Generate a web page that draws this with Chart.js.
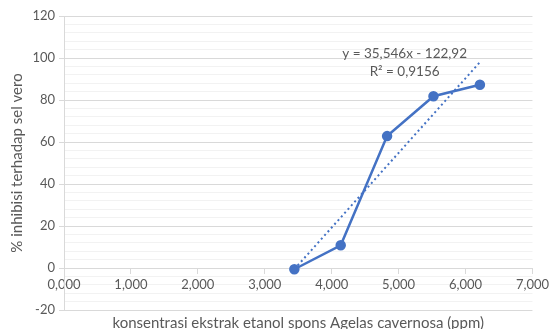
<!DOCTYPE html>
<html lang="id">
<head>
  <meta charset="UTF-8" />
  <title>Inhibisi sel vero</title>
  <script src="https://cdn.jsdelivr.net/npm/chart.js"></script>
  <style>
    html, body { margin: 0; padding: 0; background: #fff; }
    .chart-box { width: 553px; height: 329px; position: relative; }
  </style>
</head>
<body>
  <div class="chart-box">
    <canvas id="inhibChart"></canvas>
  </div>

  <script>
    // data (x = ln of concentration)
    const konsentrasi = [3.442, 4.135, 4.828, 5.521, 6.215];
    const inhibisi = [-0.6, 10.8, 62.8, 81.8, 87.3];

    // trendline as printed on the chart
    const slope = 35.546;
    const intercept = -122.92;
    const eqLabels = ["y = 35,546x - 122,92", "R\u00b2 = 0,9156"];
    const xTitle = "konsentrasi ekstrak etanol spons Agelas cavernosa (ppm)";
    const yTitle = "% inhibisi terhadap sel vero";

    const blue = "#4472C4";
    const grey = "#595959";
    const fontFam = "Lato, 'Open Sans', sans-serif";

    const trendX = [konsentrasi[0], konsentrasi[konsentrasi.length - 1]];

    // equation label + x axis title (x axis sits at y = 0, so its own title would too)
    const extraText = {
      id: "extraText",
      afterDatasetsDraw(chart) {
        const { ctx, scales, chartArea } = chart;
        const cx = scales.x.getPixelForValue(5.09);
        const cy = scales.y.getPixelForValue(102.3);
        ctx.save();
        ctx.fillStyle = grey;
        ctx.textAlign = "center";
        ctx.textBaseline = "middle";
        ctx.font = "13.5px " + fontFam;
        ctx.fillText(eqLabels[0], cx, cy);
        ctx.fillText(eqLabels[1], cx, cy + 18);
        ctx.font = "15px " + fontFam;
        ctx.fillText(xTitle, (chartArea.left + chartArea.right) / 2, chartArea.bottom + 13);
        ctx.restore();
      }
    };

    new Chart(document.getElementById("inhibChart"), {
      type: "scatter",
      data: {
        datasets: [
          {
            label: "inhibisi",
            data: konsentrasi.map((x, i) => ({ x: x, y: inhibisi[i] })),
            showLine: true,
            borderColor: blue,
            backgroundColor: blue,
            borderWidth: 2.5,
            pointRadius: 4,
            pointHoverRadius: 4,
            order: 1
          },
          {
            label: "trend",
            data: trendX.map(x => ({ x: x, y: slope * x + intercept })),
            showLine: true,
            borderColor: blue,
            borderWidth: 2,
            borderDash: [2, 3],
            pointRadius: 0,
            order: 2
          }
        ]
      },
      options: {
        responsive: true,
        maintainAspectRatio: false,
        animation: false,
        events: [],
        layout: { padding: { top: 16, right: 16, left: 0, bottom: 19 } },
        plugins: {
          legend: { display: false },
          tooltip: { enabled: false }
        },
        scales: {
          x: {
            type: "linear",
            position: { y: 0 },
            min: 0,
            max: 7,
            ticks: {
              stepSize: 1,
              color: grey,
              font: { family: fontFam, size: 13 },
              padding: 4,
              maxRotation: 0,
              callback: v => v.toFixed(3).replace(".", ",")
            },
            grid: { drawOnChartArea: false, drawTicks: true, tickLength: 5, tickColor: "#d9d9d9" },
            border: { color: "#d9d9d9", width: 1 }
          },
          y: {
            min: -20,
            max: 120,
            afterFit: s => { s.width = 64; },
            ticks: {
              stepSize: 4,
              autoSkip: false,
              color: grey,
              font: { family: fontFam, size: 13 },
              padding: 4,
              callback: v => (Math.round(v) % 20 === 0 ? v : "")
            },
            grid: {
              color: c => (Math.round(c.tick.value) % 20 === 0 ? "#d9d9d9" : "#f2f2f2"),
              tickColor: c => (Math.round(c.tick.value) % 20 === 0 ? "#d9d9d9" : "rgba(0,0,0,0)"),
              tickLength: 5
            },
            border: { color: "#d9d9d9" },
            title: {
              display: true,
              text: yTitle,
              color: grey,
              font: { family: fontFam, size: 15 },
              padding: { top: 8, bottom: 0 }
            }
          }
        }
      },
      plugins: [extraText]
    });
  </script>
</body>
</html>
